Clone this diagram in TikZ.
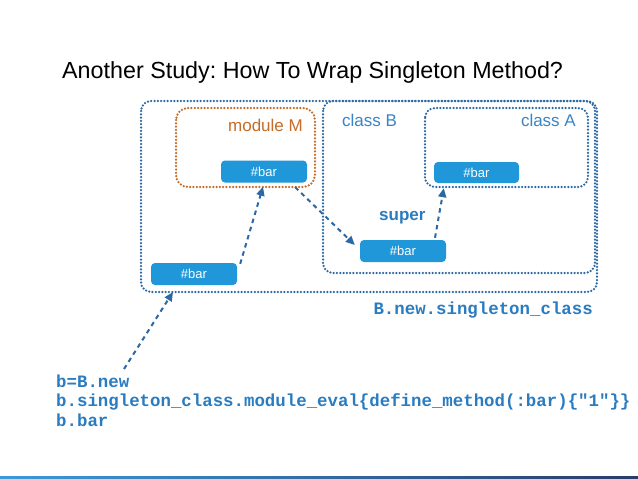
\documentclass[tikz,border=0pt]{standalone}
\usepackage{fontspec}
\setmainfont{Liberation Sans}
\newfontfamily\codefont{Liberation Mono}
\usetikzlibrary{arrows.meta,calc}
\frenchspacing
\definecolor{dotblue}{HTML}{2C68A3}
\definecolor{barblue}{HTML}{1F97D8}
\definecolor{codeblue}{HTML}{2A7CC0}
\definecolor{lblblue}{HTML}{3A84C6}
\definecolor{modorange}{HTML}{C46C28}
\definecolor{barleft}{HTML}{3C9AD8}
\definecolor{barright}{HTML}{2A3C6A}
\begin{document}
\begin{tikzpicture}[x=1pt,y=-1pt,
  dotbox/.style={draw=dotblue,line width=2.5pt,line cap=round,dash pattern=on 0pt off 3.3pt,rounded corners=10pt},
  modbox/.style={draw=modorange,line width=2.5pt,line cap=round,dash pattern=on 0pt off 3.3pt,rounded corners=12pt},
  barbox/.style={fill=barblue,rounded corners=4pt,minimum height=22pt,minimum width=86pt,inner sep=0pt,
    text=white,font=\fontsize{13}{13}\selectfont},
  link/.style={draw=dotblue,line width=2pt,dash pattern=on 4.5pt off 4pt,
    -{Triangle[length=9pt,width=8pt]}},
  lbl/.style={font=\fontsize{17}{17}\selectfont,inner sep=0pt},
  code/.style={text=codeblue,font=\codefont\bfseries\fontsize{17.4}{19.5}\selectfont,inner sep=0pt}]
\useasboundingbox (0,0) rectangle (638,479);
\fill[white] (0,0) rectangle (638,479);

% title
\node[anchor=base west,inner sep=0pt,font=\fontsize{23.3}{23.3}\selectfont] (title) at (62,78)
  {Another Study: How To Wrap Singleton Method?};

% boxes
\draw[dotbox] (141,101) rectangle (597,292);
\coordinate (outerbot) at (173,292);
\draw[dotbox] (323,101) rectangle (595,273);
\draw[dotbox] (425,108) rectangle (588,187);
\draw[modbox] (176,108) rectangle (315,187);
\coordinate (modbot) at (295,187);

% labels
\node[lbl,anchor=base east,text=modorange] (modM) at (303,131) {module M};
\node[lbl,anchor=base west,text=lblblue] (clsB) at (342,126) {class B};
\node[lbl,anchor=base east,text=lblblue] (clsA) at (576,126) {class A};
\node[anchor=base west,inner sep=0pt,text=codeblue,font=\bfseries\fontsize{17}{17}\selectfont] (super) at (379,220) {super};

% method nodes
\node[barbox] (barM) at (264,171.5) {\#bar};
\node[barbox] (barL) at (194,274) {\#bar};
\node[barbox,minimum height=21pt,minimum width=85pt] (barA) at (476.5,172.5) {\#bar};
\node[barbox] (barB) at (403,251) {\#bar};

% code
\node[code,anchor=base east] (sing) at (593,314) {B.new.singleton\_class};
\node[code,anchor=base west] (code1) at (56,387) {b=B.new};
\node[code,anchor=base west] (code2) at (56,406.5) {b.singleton\_class.module\_eval\{define\_method(:bar)\{"1"\}\}};
\node[code,anchor=base west] (code3) at (56,426) {b.bar};
\coordinate (codetop) at (124,369);

% connectors
\draw[link] ($(barL.north east)+(3,1)$) -- ($(barM.south)+(-1,4)$);
\draw[link] (modbot) -- ($(barB.west)+(-5,-6)$);
\draw[link] ($(barB.north)+(32,-2)$) -- ($(barA.south west)+(10,5)$);
\draw[link] (codetop) -- (outerbot);

% bottom bar
\shade[left color=barleft,right color=barright] (0,476) rectangle (638,479);
\end{tikzpicture}
\end{document}
